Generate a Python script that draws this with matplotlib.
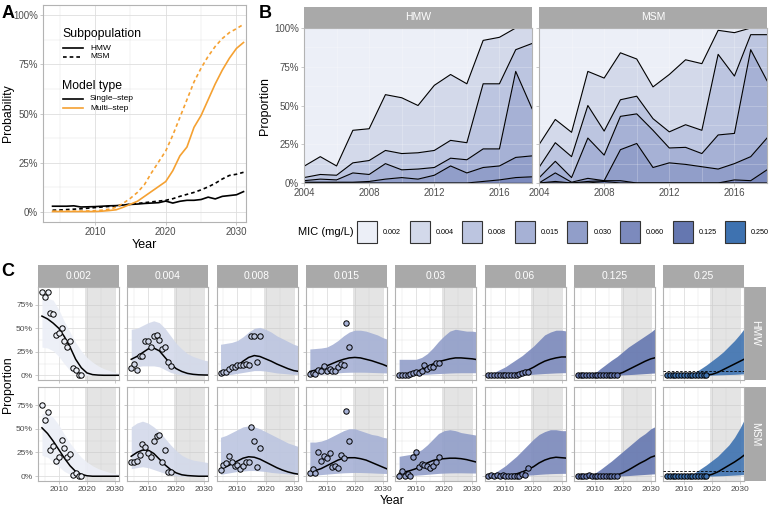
import numpy as np
import matplotlib
matplotlib.use('Agg')
import matplotlib.pyplot as plt
from matplotlib.patches import Rectangle
from matplotlib.lines import Line2D
from matplotlib.ticker import FuncFormatter

plt.rcParams['font.family'] = ['Liberation Sans', 'DejaVu Sans']

W, H = 778, 507

# ---------------- panel A: probability of resistance ----------------
years_a = np.arange(2004, 2032)
hmw_single = [3.0, 3.0, 3.0, 3.2, 2.6, 2.7, 2.8, 3.0, 3.2, 3.3, 3.6, 3.9, 4.1, 4.4,
              4.6, 4.8, 5.6, 4.6, 5.5, 6.0, 6.0, 6.4, 7.6, 6.7, 8.0, 8.4, 8.8, 10.4]
msm_single = [1.0, 1.1, 1.3, 1.5, 1.7, 2.0, 2.3, 2.6, 2.9, 3.2, 3.6, 4.0, 4.4, 4.8,
              5.2, 5.6, 6.0, 6.8, 8.0, 9.0, 10.0, 11.3, 12.8, 14.6, 16.8, 18.6, 19.2, 20.2]
hmw_multi = [0.3, 0.3, 0.3, 0.3, 0.3, 0.3, 0.3, 0.5, 0.8, 1.2, 2.5, 4.0, 5.5, 8.0,
             10.5, 13.0, 15.5, 21.0, 28.5, 33.0, 43.0, 49.0, 57.0, 65.0, 72.0, 78.0, 83.0, 86.0]
msm_multi = [0.5, 0.5, 0.5, 0.5, 0.5, 0.6, 0.7, 1.0, 1.5, 2.5, 4.5, 7.0, 10.0, 14.0,
             20.0, 25.5, 31.0, 39.0, 48.0, 57.0, 66.0, 73.0, 79.0, 84.0, 88.0, 91.0, 93.0, 95.2]

# ---------------- observed MIC distribution (percent per year) ----------------
mic_labels = ['0.002', '0.004', '0.008', '0.015', '0.030', '0.060', '0.125', '0.250']
strip_labels = ['0.002', '0.004', '0.008', '0.015', '0.03', '0.06', '0.125', '0.25']
mic_colors = ['#eceff7', '#d3d9ea', '#bcc5e0', '#a6b1d5', '#919ec9', '#7c8abd', '#6577b0', '#3e72b0']
years_obs = np.arange(2004, 2019)

hmw_obs = [
    [89.2, 83, 89, 66, 65, 43, 45, 50, 37, 30, 36, 8, 6, 0, 0],
    [7.3, 11.5, 6, 21, 20.5, 36, 36, 30.5, 42, 42.5, 38, 28, 30, 14, 10],
    [2, 3, 3, 6.5, 9, 8.5, 10.5, 10.5, 11, 11.5, 11, 42, 42, 14, 42],
    [1, 2, 1.5, 6, 4.5, 10, 5, 6.5, 5, 5, 8.5, 12, 11, 55.5, 30.5],
    [0.5, 0.5, 0.5, 0.5, 1, 2.5, 3.5, 2.5, 5, 11, 6.5, 9, 9, 13, 13.5],
    [0, 0, 0, 0, 0, 0, 0, 0, 0, 0, 0, 1, 2, 3.5, 4],
    [0, 0, 0, 0, 0, 0, 0, 0, 0, 0, 0, 0, 0, 0, 0],
    [0, 0, 0, 0, 0, 0, 0, 0, 0, 0, 0, 0, 0, 0, 0],
]
msm_obs = [
    [75.3, 59, 67.3, 28, 32.3, 16, 20, 38, 30, 20.5, 23, 1.5, 3, 0, 0],
    [14.7, 15, 15.7, 22, 34.2, 30.3, 24, 20.5, 37, 41.9, 43, 15.5, 28, 4.3, 4.3],
    [6.7, 12, 13.5, 21, 15.5, 10.7, 11.4, 7.5, 10.4, 14.6, 15, 52, 37, 9.7, 29.7],
    [3.3, 7.5, 3, 26, 16.5, 21.5, 19.1, 24, 9.6, 11, 8.5, 22, 19.5, 69, 37],
    [0, 5.5, 0.5, 2, 0, 20, 25.5, 10, 13, 12, 10.5, 9, 10.5, 15.5, 20.5],
    [0, 1, 0, 1, 0.5, 1.5, 0, 0, 0, 0, 0, 0, 2, 1.5, 8.5],
    [0, 0, 0, 0, 1, 0, 0, 0, 0, 0, 0, 0, 0, 0, 0],
    [0, 0, 0, 0, 0, 0, 0, 0, 0, 0, 0, 0, 0, 0, 0],
]

# ---------------- model fits (proportion), every 2 years ----------------
model_years = np.arange(2004, 2033, 2)
med_hmw = [
    [0.63, 0.60, 0.555, 0.50, 0.41, 0.30, 0.17, 0.08, 0.025, 0.007, 0.002, 0, 0, 0, 0],
    [0.17, 0.20, 0.24, 0.28, 0.29, 0.26, 0.19, 0.12, 0.07, 0.04, 0.02, 0.01, 0.005, 0.003, 0.002],
    [0.02, 0.04, 0.07, 0.10, 0.15, 0.19, 0.21, 0.20, 0.175, 0.15, 0.12, 0.095, 0.07, 0.05, 0.04],
    [0.04, 0.055, 0.075, 0.10, 0.125, 0.15, 0.17, 0.185, 0.19, 0.185, 0.17, 0.155, 0.135, 0.115, 0.09],
    [0.005, 0.01, 0.02, 0.04, 0.06, 0.09, 0.12, 0.145, 0.16, 0.175, 0.185, 0.185, 0.18, 0.175, 0.165],
    [0.001, 0.002, 0.004, 0.007, 0.012, 0.02, 0.035, 0.055, 0.085, 0.12, 0.15, 0.17, 0.185, 0.195, 0.195],
    [0, 0, 0, 0, 0, 0.002, 0.004, 0.01, 0.03, 0.06, 0.09, 0.12, 0.15, 0.175, 0.19],
    [0, 0, 0, 0, 0, 0, 0.001, 0.002, 0.01, 0.03, 0.06, 0.09, 0.12, 0.15, 0.18],
]
lo_hmw = [
    [0.30, 0.29, 0.26, 0.20, 0.12, 0.05, 0.015, 0.003, 0, 0, 0, 0, 0, 0, 0],
    [0.08, 0.09, 0.10, 0.10, 0.10, 0.09, 0.06, 0.03, 0.015, 0.007, 0.003, 0, 0, 0, 0],
    [0.003, 0.005, 0.01, 0.02, 0.03, 0.04, 0.05, 0.05, 0.045, 0.035, 0.025, 0.02, 0.015, 0.01, 0.01],
    [0.005, 0.008, 0.012, 0.017, 0.022, 0.026, 0.03, 0.032, 0.033, 0.033, 0.032, 0.03, 0.028, 0.026, 0.024],
    [0.001, 0.002, 0.003, 0.005, 0.008, 0.011, 0.015, 0.018, 0.021, 0.024, 0.026, 0.027, 0.027, 0.027, 0.027],
    [0, 0, 0, 0, 0.001, 0.002, 0.004, 0.007, 0.011, 0.015, 0.019, 0.022, 0.025, 0.027, 0.028],
    [0, 0, 0, 0, 0, 0, 0.001, 0.002, 0.004, 0.007, 0.01, 0.014, 0.018, 0.022, 0.025],
    [0, 0, 0, 0, 0, 0, 0, 0.001, 0.002, 0.004, 0.006, 0.008, 0.01, 0.013, 0.015],
]
hi_hmw = [
    [0.82, 0.82, 0.80, 0.70, 0.57, 0.46, 0.35, 0.26, 0.19, 0.14, 0.10, 0.07, 0.05, 0.03, 0.02],
    [0.49, 0.50, 0.53, 0.56, 0.58, 0.56, 0.50, 0.42, 0.34, 0.28, 0.23, 0.20, 0.18, 0.16, 0.15],
    [0.33, 0.34, 0.35, 0.37, 0.41, 0.46, 0.50, 0.51, 0.49, 0.46, 0.42, 0.39, 0.36, 0.33, 0.31],
    [0.28, 0.285, 0.29, 0.30, 0.33, 0.37, 0.42, 0.46, 0.48, 0.48, 0.47, 0.45, 0.43, 0.40, 0.38],
    [0.17, 0.17, 0.17, 0.17, 0.19, 0.23, 0.29, 0.36, 0.42, 0.47, 0.49, 0.48, 0.47, 0.47, 0.46],
    [0.005, 0.03, 0.06, 0.09, 0.13, 0.17, 0.21, 0.26, 0.31, 0.37, 0.43, 0.46, 0.48, 0.48, 0.47],
    [0, 0, 0, 0.02, 0.07, 0.115, 0.16, 0.20, 0.25, 0.30, 0.34, 0.38, 0.42, 0.46, 0.51],
    [0, 0, 0, 0, 0.005, 0.035, 0.07, 0.11, 0.155, 0.20, 0.25, 0.31, 0.37, 0.44, 0.52],
]
med_msm = [
    [0.51, 0.45, 0.37, 0.28, 0.19, 0.11, 0.05, 0.02, 0.005, 0, 0, 0, 0, 0, 0],
    [0.21, 0.25, 0.275, 0.275, 0.24, 0.18, 0.12, 0.07, 0.035, 0.015, 0.007, 0.003, 0, 0, 0],
    [0.08, 0.10, 0.13, 0.16, 0.19, 0.205, 0.20, 0.18, 0.15, 0.12, 0.09, 0.065, 0.045, 0.03, 0.02],
    [0.045, 0.06, 0.08, 0.11, 0.14, 0.17, 0.19, 0.195, 0.195, 0.185, 0.17, 0.145, 0.12, 0.095, 0.07],
    [0.03, 0.045, 0.06, 0.08, 0.11, 0.14, 0.165, 0.18, 0.185, 0.19, 0.19, 0.185, 0.175, 0.16, 0.145],
    [0.001, 0.002, 0.004, 0.008, 0.015, 0.025, 0.045, 0.07, 0.10, 0.14, 0.17, 0.19, 0.20, 0.195, 0.19],
    [0, 0, 0, 0, 0, 0.002, 0.005, 0.012, 0.035, 0.065, 0.10, 0.135, 0.165, 0.20, 0.22],
    [0, 0, 0, 0, 0, 0, 0.001, 0.004, 0.02, 0.045, 0.08, 0.115, 0.15, 0.19, 0.235],
]
lo_msm = [
    [0.22, 0.20, 0.15, 0.10, 0.05, 0.02, 0.005, 0, 0, 0, 0, 0, 0, 0, 0],
    [0.08, 0.09, 0.10, 0.09, 0.07, 0.05, 0.03, 0.012, 0.005, 0, 0, 0, 0, 0, 0],
    [0.02, 0.03, 0.04, 0.05, 0.055, 0.06, 0.06, 0.055, 0.05, 0.04, 0.035, 0.03, 0.025, 0.02, 0.02],
    [0.008, 0.012, 0.017, 0.022, 0.027, 0.032, 0.036, 0.038, 0.04, 0.039, 0.037, 0.035, 0.032, 0.03, 0.028],
    [0.003, 0.005, 0.008, 0.011, 0.015, 0.02, 0.025, 0.03, 0.033, 0.035, 0.036, 0.036, 0.035, 0.034, 0.033],
    [0, 0, 0, 0.001, 0.002, 0.004, 0.007, 0.011, 0.015, 0.02, 0.024, 0.027, 0.029, 0.03, 0.03],
    [0, 0, 0, 0, 0, 0, 0.001, 0.002, 0.004, 0.007, 0.011, 0.015, 0.019, 0.023, 0.026],
    [0, 0, 0, 0, 0, 0, 0, 0.001, 0.002, 0.004, 0.006, 0.009, 0.012, 0.015, 0.018],
]
hi_msm = [
    [0.66, 0.66, 0.62, 0.54, 0.44, 0.35, 0.27, 0.20, 0.15, 0.11, 0.08, 0.06, 0.04, 0.03, 0.02],
    [0.52, 0.56, 0.58, 0.56, 0.52, 0.47, 0.40, 0.33, 0.27, 0.22, 0.19, 0.17, 0.16, 0.15, 0.14],
    [0.41, 0.43, 0.46, 0.49, 0.52, 0.53, 0.52, 0.50, 0.47, 0.44, 0.41, 0.38, 0.35, 0.33, 0.31],
    [0.36, 0.36, 0.37, 0.39, 0.42, 0.45, 0.48, 0.50, 0.50, 0.48, 0.46, 0.44, 0.43, 0.41, 0.40],
    [0.21, 0.22, 0.23, 0.25, 0.28, 0.33, 0.39, 0.45, 0.48, 0.49, 0.48, 0.46, 0.45, 0.44, 0.43],
    [0.005, 0.03, 0.07, 0.11, 0.16, 0.21, 0.27, 0.33, 0.39, 0.44, 0.47, 0.49, 0.49, 0.48, 0.48],
    [0, 0, 0, 0.03, 0.07, 0.115, 0.16, 0.21, 0.26, 0.31, 0.36, 0.41, 0.45, 0.50, 0.53],
    [0, 0, 0, 0, 0.005, 0.04, 0.08, 0.12, 0.165, 0.21, 0.27, 0.33, 0.41, 0.51, 0.63],
]
threshold = 0.05

# ---------------- helpers ----------------
STRIP = '#a9a9a9'
BORDER = '#b3b3b3'
GRID = '#dedede'
pct = FuncFormatter(lambda v, p: f'{v * 100:.0f}%')

fig = plt.figure(figsize=(W / 100, H / 100), dpi=100)


def px_axes(x0, y0, x1, y1):
    return fig.add_axes([x0 / W, 1 - y1 / H, (x1 - x0) / W, (y1 - y0) / H])


def fx(x):
    return x / W


def fy(y):
    return 1 - y / H


def strip(x0, y0, x1, y1, label, rot=0, size=7.5):
    fig.add_artist(Rectangle((fx(x0), fy(y1)), (x1 - x0) / W, (y1 - y0) / H,
                             transform=fig.transFigure, facecolor=STRIP, edgecolor='none'))
    fig.text(fx((x0 + x1) / 2), fy((y0 + y1) / 2), label, color='white',
             ha='center', va='center', rotation=rot, fontsize=size)


def light(ax, size=7):
    for s in ax.spines.values():
        s.set_color(BORDER)
        s.set_linewidth(0.8)
    ax.tick_params(which='major', length=2.2, width=0.5, color=BORDER,
                   labelsize=size, labelcolor='#4d4d4d', pad=1.5)
    ax.tick_params(which='minor', length=0)
    ax.grid(which='major', color=GRID, lw=0.6)
    ax.grid(which='minor', color=GRID, lw=0.3)
    ax.set_axisbelow(True)


# ---------------- A ----------------
axA = px_axes(43, 5, 246, 222)
light(axA)
orange = '#f5a132'
axA.plot(years_a, np.array(hmw_single) / 100, color='black', lw=1.2)
axA.plot(years_a, np.array(msm_single) / 100, color='black', lw=1.2, dashes=(2.2, 1.8))
axA.plot(years_a, np.array(hmw_multi) / 100, color=orange, lw=1.2)
axA.plot(years_a, np.array(msm_multi) / 100, color=orange, lw=1.2, dashes=(2.2, 1.8))
axA.set_xlim(2002.65, 2031.35)
axA.set_ylim(-0.05, 1.05)
axA.set_xticks([2010, 2020, 2030])
axA.set_xticks([2005, 2015, 2025], minor=True)
axA.set_yticks([0, 0.25, 0.5, 0.75, 1])
axA.set_yticks([0.125, 0.375, 0.625, 0.875], minor=True)
axA.yaxis.set_major_formatter(pct)
axA.set_xlabel('Year', fontsize=9, labelpad=1.5)
fig.text(fx(8), fy(113), 'Probability', fontsize=8.8, ha='center', va='center', rotation=90)

# legend of A
fig.text(fx(62), fy(34), 'Subpopulation', fontsize=8.8, va='center')
fig.add_artist(Line2D([fx(63), fx(83)], [fy(48)] * 2, color='black', lw=1.2))
fig.add_artist(Line2D([fx(63), fx(83)], [fy(57)] * 2, color='black', lw=1.2, dashes=(2.2, 1.8)))
fig.text(fx(90), fy(48), 'HMW', fontsize=6, va='center')
fig.text(fx(90), fy(57), 'MSM', fontsize=6, va='center')
fig.text(fx(62), fy(86), 'Model type', fontsize=8.8, va='center')
fig.add_artist(Line2D([fx(63), fx(83)], [fy(99)] * 2, color='black', lw=1.2))
fig.add_artist(Line2D([fx(63), fx(83)], [fy(108)] * 2, color=orange, lw=1.2))
fig.text(fx(90), fy(99), 'Single\u2013step', fontsize=6, va='center')
fig.text(fx(90), fy(108), 'Multi\u2013step', fontsize=6, va='center')

# ---------------- B ----------------
for k, (obs, name, x0, x1) in enumerate([(hmw_obs, 'HMW', 304, 532), (msm_obs, 'MSM', 539, 767)]):
    ax = px_axes(x0, 28, x1, 183)
    light(ax)
    vals = np.array(obs)[::-1] / 100
    ax.stackplot(years_obs, vals, colors=mic_colors[::-1], lw=0, zorder=2)
    cum = np.cumsum(vals, axis=0)
    for row in cum[:-1]:
        ax.plot(years_obs, row, color='black', lw=0.8, zorder=3)
    ax.plot(years_obs, np.zeros(len(years_obs)), color='black', lw=0.8, zorder=3)
    ax.grid(which='both', color='white', alpha=0.3, lw=0.5)
    ax.set_axisbelow(False)
    for s in ax.spines.values():
        s.set_zorder(5)
    ax.set_xlim(2004, 2018)
    ax.set_ylim(0, 1)
    ax.set_xticks([2004, 2008, 2012, 2016])
    ax.set_xticks([2006, 2010, 2014], minor=True)
    ax.set_yticks([0, 0.25, 0.5, 0.75, 1])
    ax.set_yticks([0.125, 0.375, 0.625, 0.875], minor=True)
    if k == 0:
        ax.yaxis.set_major_formatter(pct)
        ax.set_ylabel('Proportion', fontsize=9, labelpad=2)
    else:
        ax.set_yticklabels([])
    strip(x0, 7, x1, 28, name)

# MIC legend
fig.text(fx(298), fy(232), 'MIC (mg/L)', fontsize=8, va='center')
for i, lab in enumerate(mic_labels):
    bx = 357 + i * 52.6
    fig.add_artist(Rectangle((fx(bx), fy(243)), 20 / W, 22 / H, transform=fig.transFigure,
                             facecolor=mic_colors[i], edgecolor='#333333', lw=0.8))
    fig.text(fx(bx + 26), fy(232), lab, fontsize=5.2, va='center')

# ---------------- C ----------------
rows = [(287, 379.5, 'HMW', hmw_obs, med_hmw, lo_hmw, hi_hmw),
        (387, 480.5, 'MSM', msm_obs, med_msm, lo_msm, hi_msm)]
for r, (y0, y1, name, obs, med, lo, hi) in enumerate(rows):
    for i in range(8):
        x0 = 38 + i * 89.3
        ax = px_axes(x0, y0, x0 + 81, y1)
        light(ax, size=6)
        ax.axvspan(2019.3, 2030, color='#c4c4c4', alpha=0.45, lw=0, zorder=1.5)
        ax.fill_between(model_years, lo[i], hi[i], color=mic_colors[i], alpha=0.9, lw=0, zorder=2)
        ax.plot(model_years, med[i], color='black', lw=1.1, zorder=3)
        if i == 7:
            ax.axhline(threshold, color='black', lw=0.6, ls=(0, (3, 2)), zorder=3)
        ax.scatter(years_obs, np.array(obs[i]) / 100, s=15, facecolor=mic_colors[i],
                   edgecolor='black', lw=0.7, zorder=4)
        ax.set_xlim(2002.6, 2031.4)
        ax.set_ylim(-0.045, 0.94)
        ax.set_xticks([2010, 2020, 2030])
        ax.set_xticks([2005, 2015, 2025], minor=True)
        ax.set_yticks([0, 0.25, 0.5, 0.75])
        ax.set_yticks([0.125, 0.375, 0.625], minor=True)
        if i == 0:
            ax.yaxis.set_major_formatter(pct)
        else:
            ax.set_yticklabels([])
        if r == 0:
            ax.set_xticklabels([])
            strip(x0, 265, x0 + 81, 287, strip_labels[i])
    strip(745, y0, 766, y1, name, rot=-90)

fig.text(fx(392), fy(501), 'Year', fontsize=8.8, ha='center', va='center')
fig.text(fx(8), fy(385), 'Proportion', fontsize=8.8, ha='center', va='center', rotation=90)

# panel letters
fig.text(fx(2), fy(13), 'A', fontsize=13, fontweight='bold', va='center')
fig.text(fx(259), fy(13), 'B', fontsize=13, fontweight='bold', va='center')
fig.text(fx(1), fy(271), 'C', fontsize=13, fontweight='bold', va='center')

fig.savefig('out.png', dpi=100)
